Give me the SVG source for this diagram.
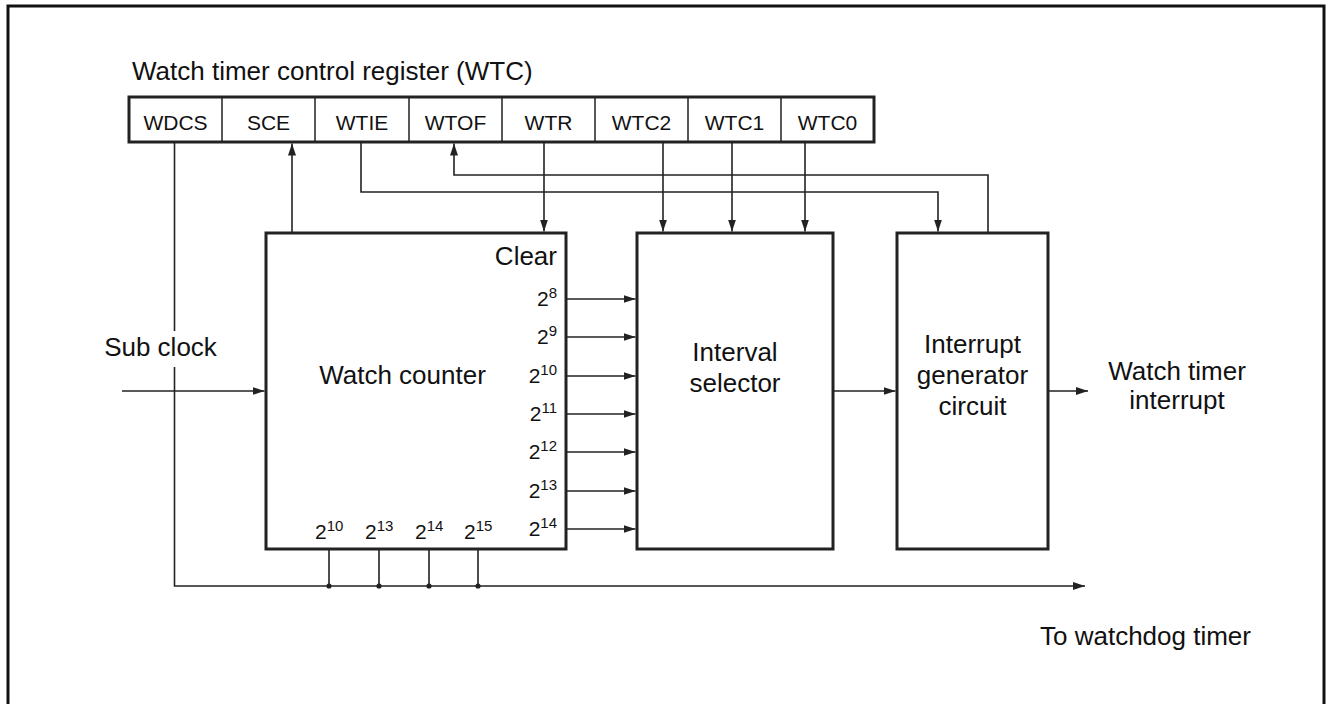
<svg xmlns="http://www.w3.org/2000/svg" width="1327" height="704" viewBox="0 0 1327 704">
<defs>
<style>
text{font-family:"Liberation Sans",Arial,Helvetica,sans-serif;fill:#111;}
.lbl{font-size:26px;}
.reg{font-size:21px;text-anchor:middle;}
.pw{font-size:21px;}
.sup{font-size:15px;}
.box{fill:#fff;stroke:#222;stroke-width:3;}
.div{stroke:#222;stroke-width:1.5;fill:none;}
.wire{stroke:#222;stroke-width:1.6;fill:none;}
.arr{marker-end:url(#ah);}
.mid{text-anchor:middle;}
.end{text-anchor:end;}
</style>
<marker id="ah" markerUnits="userSpaceOnUse" markerWidth="13" markerHeight="9" refX="12" refY="4" orient="auto">
<path d="M0,0 L12,4 L0,8 Z" fill="#222"/>
</marker>
</defs>
<rect width="1327" height="704" fill="#fff"/>
<rect x="8" y="6" width="1316" height="720" fill="none" stroke="#111" stroke-width="3"/>

<g id="register">
<text class="lbl" x="132" y="80">Watch timer control register (WTC)</text>
<rect class="box" x="129" y="97" width="745" height="45"/>
<path class="div" d="M222,97V142M315,97V142M409,97V142M502,97V142M595,97V142M688,97V142M781,97V142"/>
<text class="reg" x="175.5" y="130">WDCS</text>
<text class="reg" x="268.5" y="130">SCE</text>
<text class="reg" x="362" y="130">WTIE</text>
<text class="reg" x="455.5" y="130">WTOF</text>
<text class="reg" x="548.5" y="130">WTR</text>
<text class="reg" x="641.5" y="130">WTC2</text>
<text class="reg" x="734.5" y="130">WTC1</text>
<text class="reg" x="827.5" y="130">WTC0</text>
</g>

<g id="connectors">
<path class="wire arr" d="M292,233V143.5"/>
<path class="wire arr" d="M361,142V192H938V231.5"/>
<path class="wire arr" d="M988,233V175H454V143.5"/>
<path class="wire arr" d="M544,142V231.5"/>
<path class="wire arr" d="M663,142V231.5"/>
<path class="wire arr" d="M732,142V231.5"/>
<path class="wire arr" d="M805,142V231.5"/>
<path class="wire arr" d="M566,299H635.5"/>
<path class="wire arr" d="M566,337H635.5"/>
<path class="wire arr" d="M566,376H635.5"/>
<path class="wire arr" d="M566,414H635.5"/>
<path class="wire arr" d="M566,452H635.5"/>
<path class="wire arr" d="M566,491H635.5"/>
<path class="wire arr" d="M566,529H635.5"/>
<path class="wire arr" d="M122,391H264.5"/>
<path class="wire arr" d="M833,391H895.5"/>
<path class="wire arr" d="M1048,391H1088"/>
<path class="wire" d="M174.5,142V331"/>
<path class="wire arr" d="M174.5,367V586H1085"/>
<path class="wire" d="M329,549V586M379,549V586M429,549V586M478,549V586"/>
<circle cx="329" cy="586" r="2.6" fill="#222"/>
<circle cx="379" cy="586" r="2.6" fill="#222"/>
<circle cx="429" cy="586" r="2.6" fill="#222"/>
<circle cx="478" cy="586" r="2.6" fill="#222"/>
</g>

<g id="watch-counter">
<rect class="box" x="266" y="233" width="300" height="316"/>
<text class="lbl mid" x="402.5" y="384">Watch counter</text>
<text class="lbl end" x="557" y="265">Clear</text>
<text class="pw end" x="557" y="306">2<tspan class="sup" dy="-8">8</tspan></text>
<text class="pw end" x="557" y="344">2<tspan class="sup" dy="-8">9</tspan></text>
<text class="pw end" x="557" y="383">2<tspan class="sup" dy="-8">10</tspan></text>
<text class="pw end" x="557" y="421">2<tspan class="sup" dy="-8">11</tspan></text>
<text class="pw end" x="557" y="459">2<tspan class="sup" dy="-8">12</tspan></text>
<text class="pw end" x="557" y="498">2<tspan class="sup" dy="-8">13</tspan></text>
<text class="pw end" x="557" y="536">2<tspan class="sup" dy="-8">14</tspan></text>
<text class="pw" x="315" y="539">2<tspan class="sup" dy="-8">10</tspan></text>
<text class="pw" x="365" y="539">2<tspan class="sup" dy="-8">13</tspan></text>
<text class="pw" x="415" y="539">2<tspan class="sup" dy="-8">14</tspan></text>
<text class="pw" x="464" y="539">2<tspan class="sup" dy="-8">15</tspan></text>
</g>

<g id="interval-selector">
<rect class="box" x="637" y="233" width="196" height="316"/>
<text class="lbl mid" x="735" y="361">Interval</text>
<text class="lbl mid" x="735" y="392">selector</text>
</g>

<g id="interrupt-generator">
<rect class="box" x="897" y="233" width="151" height="316"/>
<text class="lbl mid" x="972.5" y="353">Interrupt</text>
<text class="lbl mid" x="972.5" y="384">generator</text>
<text class="lbl mid" x="972.5" y="415">circuit</text>
</g>

<g id="labels">
<text class="lbl mid" x="160.5" y="356">Sub clock</text>
<text class="lbl mid" x="1177" y="380">Watch timer</text>
<text class="lbl mid" x="1177" y="409">interrupt</text>
<text class="lbl" x="1040" y="645">To watchdog timer</text>
</g>
</svg>
